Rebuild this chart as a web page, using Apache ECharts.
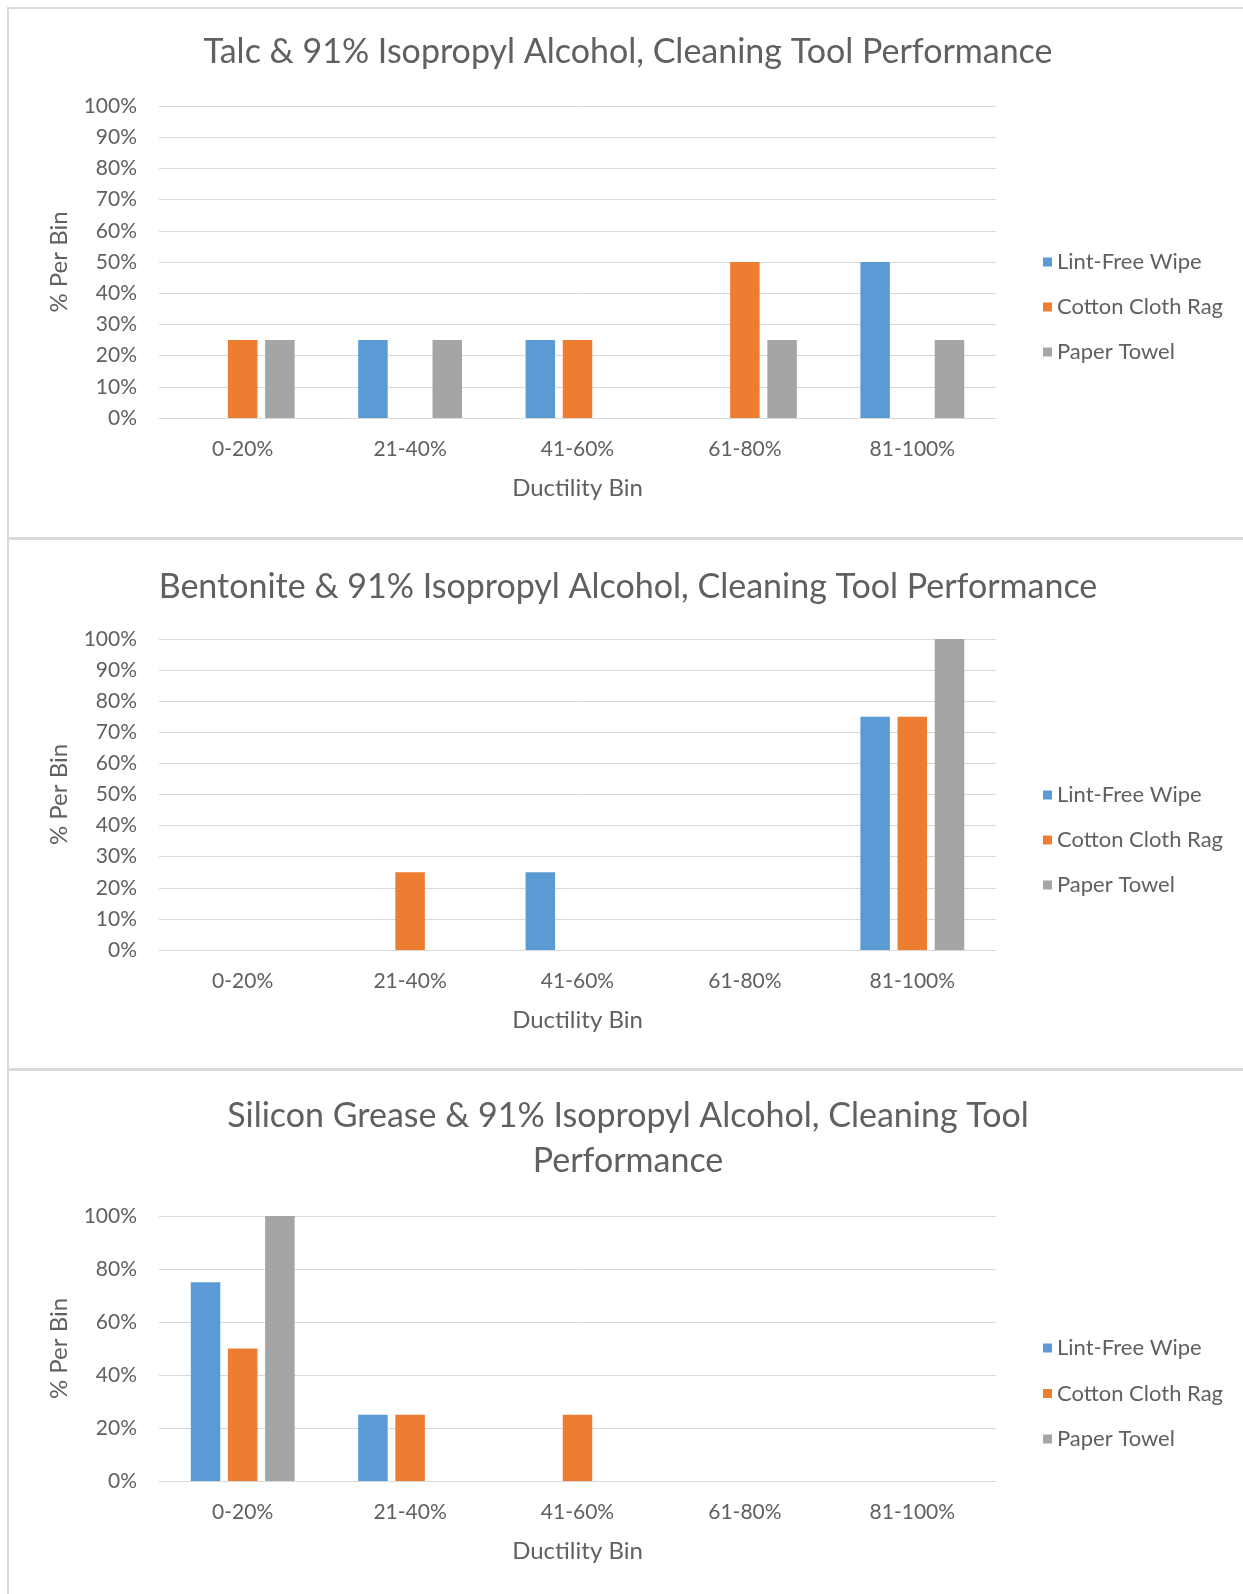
<!DOCTYPE html>
<html>
<head>
<meta charset="utf-8">
<style>
  html, body { margin: 0; padding: 0; background: #ffffff; }
  #chart { width: 1243px; height: 1594px; }
</style>
<script src="https://cdn.jsdelivr.net/npm/echarts@6/dist/echarts.min.js"></script>
</head>
<body>
<div id="chart"></div>
<script>
// ---- Data ----
const categories = ['0-20%', '21-40%', '41-60%', '61-80%', '81-100%'];
const seriesNames = ['Lint-Free Wipe', 'Cotton Cloth Rag', 'Paper Towel'];
const chartTitles = [
  'Talc & 91% Isopropyl Alcohol, Cleaning Tool Performance',
  'Bentonite & 91% Isopropyl Alcohol, Cleaning Tool Performance',
  'Silicon Grease & 91% Isopropyl Alcohol, Cleaning Tool\nPerformance'
];
const xAxisName = 'Ductility Bin';
const yAxisName = '% Per Bin';

// Talc
const talcLintFree = [0, 25, 25, 0, 50];
const talcCotton   = [25, 0, 25, 50, 0];
const talcPaper    = [25, 25, 0, 25, 25];
// Bentonite
const bentLintFree = [0, 0, 25, 0, 75];
const bentCotton   = [0, 25, 0, 0, 75];
const bentPaper    = [0, 0, 0, 0, 100];
// Silicon grease
const siliLintFree = [75, 25, 0, 0, 0];
const siliCotton   = [50, 25, 25, 0, 0];
const siliPaper    = [100, 0, 0, 0, 0];

const yTickIntervals = [10, 10, 20];

// ---- Styles ----
const colors = ['#5B9BD5', '#ED7D31', '#A5A5A5'];
const FONT = 'Lato';
const TXT = '#606060';
const GRID_LINE = '#D9D9D9';

const panels = [
  { data: [talcLintFree, talcCotton, talcPaper], gridTop: 106, gridH: 312, titleTop: 25, legendTop: 246, legendGap: 23, boxY: 8, boxH: 530 },
  { data: [bentLintFree, bentCotton, bentPaper], gridTop: 639, gridH: 311, titleTop: 560, legendTop: 779, legendGap: 23, boxY: 539, boxH: 530 },
  { data: [siliLintFree, siliCotton, siliPaper], gridTop: 1216, gridH: 265, titleTop: 1089, legendTop: 1332, legendGap: 23.5, boxY: 1070, boxH: 560 }
];

const option = {
  backgroundColor: '#ffffff',
  animation: false,
  textStyle: { fontFamily: FONT },
  title: [], legend: [], grid: [], xAxis: [], yAxis: [], series: [],
  graphic: []
};

panels.forEach((p, i) => {
  option.graphic.push({
    type: 'rect', silent: true, z: -10,
    shape: { x: 8, y: p.boxY, width: 1300, height: p.boxH },
    style: { fill: '#ffffff', stroke: '#D9D9D9', lineWidth: 2 }
  });
  option.title.push({
    text: chartTitles[i],
    left: 623, top: p.titleTop, textAlign: 'center',
    textStyle: { fontFamily: FONT, fontSize: 34, fontWeight: 'normal', color: TXT, lineHeight: 45 }
  });
  option.legend.push({
    orient: 'vertical', left: 1038, top: p.legendTop,
    itemWidth: 9, itemHeight: 9, itemGap: p.legendGap, icon: 'rect',
    data: seriesNames,
    textStyle: { fontFamily: FONT, fontSize: 22, color: TXT }
  });
  option.grid.push({ left: 159, top: p.gridTop, width: 837, height: p.gridH });
  option.xAxis.push({
    type: 'category', gridIndex: i, data: categories,
    name: xAxisName, nameLocation: 'middle', nameGap: 58,
    nameTextStyle: { fontFamily: FONT, fontSize: 24, color: TXT },
    axisLine: { lineStyle: { color: GRID_LINE, width: 1 } },
    axisTick: { show: false },
    axisLabel: { margin: 21, fontFamily: FONT, fontSize: 21, color: TXT }
  });
  option.yAxis.push({
    type: 'value', gridIndex: i, min: 0, max: 100, interval: yTickIntervals[i],
    name: yAxisName, nameLocation: 'middle', nameGap: 88,
    nameTextStyle: { fontFamily: FONT, fontSize: 24, color: TXT },
    axisLine: { show: false }, axisTick: { show: false },
    splitLine: { lineStyle: { color: GRID_LINE, width: 1 } },
    axisLabel: { margin: 22, fontFamily: FONT, fontSize: 21, color: TXT, formatter: '{value}%' }
  });
  p.data.forEach((vals, s) => {
    option.series.push({
      type: 'bar', name: seriesNames[s], xAxisIndex: i, yAxisIndex: i,
      data: vals, barWidth: 29.5, barGap: '26%',
      itemStyle: { color: colors[s] }
    });
  });
});

const chart = echarts.init(document.getElementById('chart'));
chart.setOption(option);
</script>
</body>
</html>
